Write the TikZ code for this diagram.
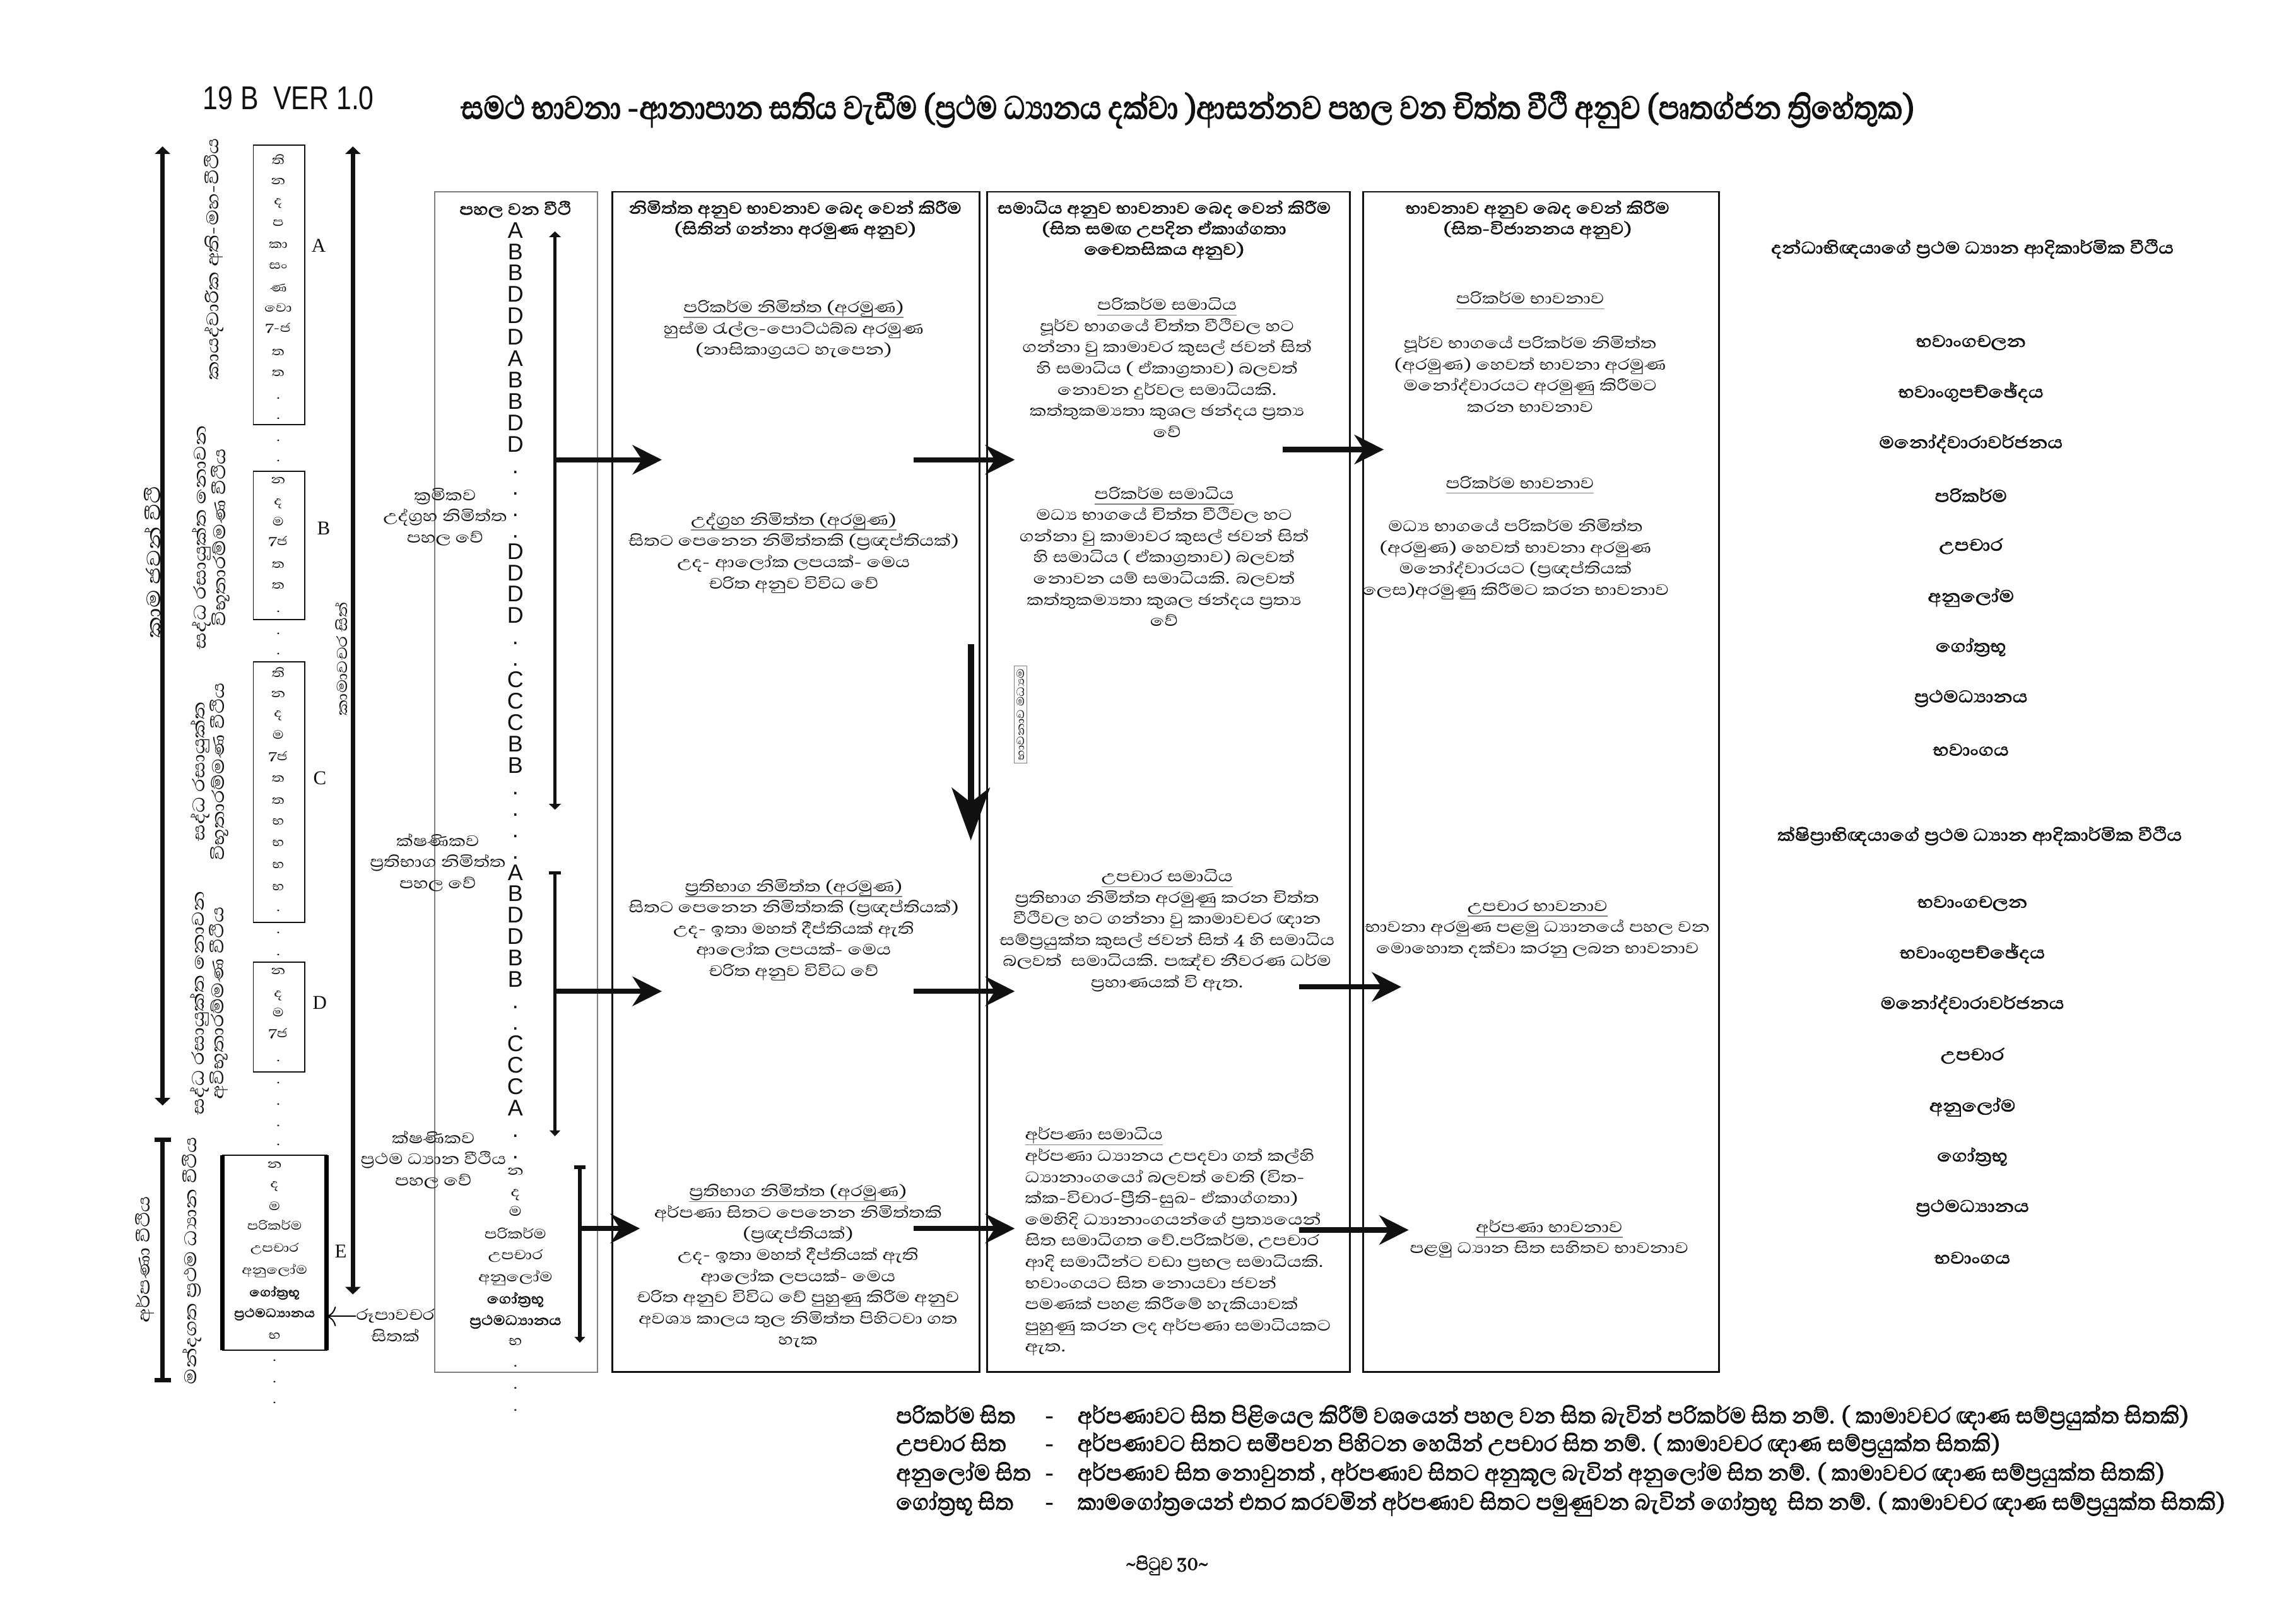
\documentclass[tikz,border=0pt]{standalone}
\usepackage{fontspec}
\setmainfont{Abhaya Libre}[Script=Sinhala]
\newfontfamily\sinw{Abhaya Libre}[Script=Sinhala,FakeStretch=1.22]
\newfontfamily\sinwb{Abhaya Libre}[Script=Sinhala,FakeStretch=1.15,FakeBold=2]
\newfontfamily\sincb{Abhaya Libre}[Script=Sinhala,FakeStretch=0.85,FakeBold=2.5]
\newfontfamily\sinnb{Abhaya Libre}[Script=Sinhala,FakeStretch=0.94,FakeBold=2]
\newfontfamily\latsans{Liberation Sans}
\newfontfamily\latnarrow{Liberation Sans}[FakeStretch=0.82]
\newfontfamily\latserif{Liberation Serif}
\usetikzlibrary{arrows.meta,positioning}
\definecolor{ink}{HTML}{111111}
\definecolor{frame}{HTML}{7F7F7F}
\newcommand{\undl}[1]{\setbox0\hbox{#1}\rlap{\color{frame}\rule[-2.6pt]{\wd0}{0.45pt}}\box0}

\begin{document}
\begin{tikzpicture}[x=0.25mm,y=-0.25mm,
  every node/.style={inner sep=0pt,outer sep=0pt,text=ink},
  colbox/.style={draw=ink,line width=0.9pt},
  slimbox/.style={draw=ink,line width=0.6pt},
  txt/.style={align=center,font=\sinw\fontsize{9.5}{10.3}\selectfont},
  hd/.style={align=center,font=\sinwb\fontsize{10}{10}\selectfont},
  vit/.style={font=\sinw\fontsize{7.5}{8}\selectfont},
  ltr/.style={font=\latsans\fontsize{11}{11}\selectfont},
  side/.style={rotate=90,align=center,font=\sinw\fontsize{10.5}{9.5}\selectfont},
  tagl/.style={font=\latserif\fontsize{9.5}{10}\selectfont},
  lst/.style={font=\sinwb\fontsize{10.5}{10}\selectfont},
  note/.style={anchor=west,font=\sinnb\fontsize{14}{14}\selectfont},
  arr/.style={-{Stealth[length=5mm,width=5mm,inset=1.6mm]},line width=2.5pt,draw=ink},
  bigarr/.style={-{Stealth[length=9mm,width=6.5mm,inset=2.5mm]},line width=3pt,draw=ink},
  twoway/.style={{Triangle[length=1.3mm,width=2.6mm]}-{Triangle[length=1.3mm,width=2.6mm]},line width=2pt,draw=ink},
  barway/.style={{Bar[width=2.8mm]}-{Bar[width=2.8mm]},line width=2pt,draw=ink},
  runway/.style={{Triangle[length=1mm,width=2mm]}-{Triangle[length=1mm,width=2mm]},line width=1.6pt,draw=ink},
  tick/.style={{Bar[width=2mm]}-{Triangle[length=1mm,width=1.8mm]},line width=1.6pt,draw=ink}
]
\fill[white] (0,0) rectangle (1568,1109);
\useasboundingbox (0,0) rectangle (1568,1109);

% title
\node[font=\latnarrow\fontsize{16}{16}\selectfont] (ver) at (197,67) {19 B\ \ VER 1.0};
\node[font=\sincb\fontsize{20}{20}\selectfont] (title) at (811,75) {සමථ භාවනා -ආනාපාන සතිය වැඩීම (ප්‍රථම ධ්‍යානය දක්වා )ආසන්නව පහල වන චිත්ත වීථි අනුව (පෘතග්ජන ත්‍රිහේතුක)};

% left: process boxes
\node[slimbox,minimum width=8.75mm,minimum height=47.75mm] (boxA) at (190.5,194.5) {};
\node[slimbox,minimum width=8.75mm,minimum height=25.25mm] (boxB) at (190.5,372.5) {};
\node[slimbox,minimum width=8.75mm,minimum height=44.5mm] (boxC) at (190.5,541) {};
\node[slimbox,minimum width=8.75mm,minimum height=18.75mm] (boxD) at (190.5,694.5) {};
\node[slimbox,minimum width=17.75mm,minimum height=33.25mm] (boxE) at (187.5,855.5) {};
\draw[line width=2pt] (boxE.north west) -- (boxE.south west);
\draw[line width=2pt] (boxE.north east) -- (boxE.south east);

\foreach \t/\y [count=\i] in {ති/109,න/124,ද/139,ප/152.5,කා/167.5,සං/181.5,ණ/196.5,වො/210,7-ජ/224,ත/240.5,ත/255,./272,./285.7,
  ./300.8,./314.6,
  න/328,ද/344,ම/356,7ජ/369.6,ත/386,ත/400,./417.7,
  ./432.7,./446.5,
  ති/459,න/474,ද/488.7,ම/502,7ජ/516.6,ත/532,ත/547,භ/561,භ/576,භ/591,භ/606,./622,
  ./637,./652,
  න/663.5,ද/680,ම/691.6,7ජ/706,./724.5,
  ./739.5,./754,./769,./782}
  \node[vit] (lv\i) at (190,\y) {\t};
\foreach \t/\y [count=\i] in {න/795.5,ද/810,ම/823.5,පරිකර්ම/836.6,උපචාර/853,අනුලෝම/868,{\sinwb ගෝත්‍රභූ}/883,{\sinwb ප්‍රථමධ්‍යානය}/897.6,භ/912.5,./929,./943.7,./958}
  \node[vit] (le\i) at (187.5,\y) {\t};

\node[tagl] (tagA) at (217.6,167.6) {A};
\node[tagl] (tagB) at (221,361) {B};
\node[tagl] (tagC) at (218.4,531.6) {C};
\node[tagl] (tagD) at (218.4,685) {D};
\node[tagl] (tagE) at (232.7,854.8) {E};

\node[side] (lblA) at (146,177) {කායද්වාරික අති-මහ-වීථිය};
\node[side] (lblB) at (144,367) {සද්ධ රසායුක්ත නොවන\\විභූතාරම්මණ වීථිය};
\node[side] (lblC) at (143,527) {සද්ධ රසායුක්ත\\විභූතාරම්මණ වීථිය};
\node[side] (lblD) at (143,685) {සද්ධ රසායුක්ත නොවන\\අවිභූතාරම්මණ වීථිය};
\node[side] (lblE) at (131,861) {මන්දගත ප්‍රථම ධ්‍යාන වීථිය};
\node[side] (apv) at (99,860) {අර්පණා වීථිය};
\node[side,font=\sinw\fontsize{12}{12}\selectfont] (kjv) at (104,384) {කාම ජවන් වීථි};
\node[side,font=\sinw\fontsize{9}{9}\selectfont] (ksit) at (233,450) {කාමාවචර සිත්};

\coordinate (kjt) at (111,100);
\coordinate (kjb) at (111,755);
\coordinate (apt) at (111,777);
\coordinate (apb) at (111,944);
\coordinate (kst) at (241,100);
\coordinate (ksb) at (241,884);
\draw[twoway] (kjt) -- (kjb);
\draw[barway] (apt) -- (apb);
\draw[twoway] (kst) -- (ksb);

% columns
\node[colbox,draw=frame,line width=0.6pt,minimum width=27.75mm,minimum height=201.5mm] (col1) at (352.5,534) {};
\node[colbox,minimum width=62.75mm,minimum height=201.5mm] (col2) at (543.5,534) {};
\node[colbox,minimum width=62mm,minimum height=201.5mm] (col3) at (798,534) {};
\node[colbox,minimum width=60.75mm,minimum height=201.5mm] (col4) at (1052.5,534) {};

\node[hd] (c1hd) at (352,143) {පහල වන වීථි};
\foreach \c [count=\i from 0] in {A,B,B,D,D,D,A,B,B,D,D,.,.,.,.,D,D,D,D,.,.,C,C,C,B,B,.,.,.,.,A,B,D,D,B,B,.,.,C,C,C,A,.,.}
  \node[ltr,anchor=base] (pv\i) at (352,162.5+14.62*\i) {\c};
\foreach \t/\y [count=\i] in {න/800,ද/816,ම/827,පරිකර්ම/842,උපචාර/857.5,අනුලෝම/872.6,{\sinwb ගෝත්‍රභූ}/887.6,{\sinwb ප්‍රථමධ්‍යානය}/902.7,භ/916.5,./933,./948,./963}
  \node[vit,font=\sinw\fontsize{8.5}{9}\selectfont] (pe\i) at (352,\y) {\t};

\node[txt] (krm) at (304,353) {ක්‍රමිකව\\උද්ග්‍රහ නිමිත්ත\\පහල වේ};
\node[txt] (ksn1) at (299,589) {ක්ෂණිකව\\ප්‍රතිභාග නිමිත්ත\\පහල වේ};
\node[txt] (ksn2) at (296,792) {ක්ෂණිකව\\ප්‍රථම ධ්‍යාන වීථිය\\පහල වේ};
\node[txt] (rupa) at (270,905) {රූපාවචර\\සිතක්};
\coordinate (rupaend) at (223,899);
\draw[-{To[length=1.6mm]},line width=0.6pt] (rupa.west |- rupaend) -- (rupaend);

\coordinate (v1t) at (379,158);
\coordinate (v1b) at (379,553);
\coordinate (v2t) at (379,595);
\coordinate (v2b) at (379,776);
\coordinate (v3t) at (396,796);
\coordinate (v3b) at (396,917);
\draw[runway] (v1t) -- (v1b);
\draw[tick] (v2t) -- (v2b);
\draw[tick] (v3t) -- (v3b);

% column 2
\node[hd] (c2hd) at (543,150) {නිමිත්ත අනුව භාවනාව බෙද වෙන් කිරීම\\(සිතින් ගන්නා අරමුණ අනුව)};
\node[txt] (nim1) at (542,225) {\undl{පරිකර්ම නිමිත්ත (අරමුණ)}\\හුස්ම රැල්ල-පොට්ඨබ්බ අරමුණ\\(නාසිකාග්‍රයට හැපෙන)};
\node[txt] (nim2) at (542,377.5) {\undl{උද්ග්‍රහ නිමිත්ත (අරමුණ)}\\සිතට පෙනෙන නිමිත්තකි (ප්‍රඥප්තියක්)\\උද- ආලෝක ලපයක්- මෙය\\චරිත අනුව විවිධ වේ};
\node[txt] (nim3) at (542,635) {\undl{ප්‍රතිභාග නිමිත්ත (අරමුණ)}\\සිතට පෙනෙන නිමිත්තකි (ප්‍රඥප්තියක්)\\උද- ඉතා මහත් දීප්තියක් ඇති\\ආලෝක ලපයක්- මෙය\\චරිත අනුව විවිධ වේ};
\node[txt] (nim4) at (545,864.5) {\undl{ප්‍රතිභාග නිමිත්ත (අරමුණ)}\\අර්පණා සිතට පෙනෙන නිමිත්තකි\\(ප්‍රඥප්තියක්)\\උද- ඉතා මහත් දීප්තියක් ඇති\\ආලෝක ලපයක්- මෙය\\චරිත අනුව විවිධ වේ පුහුණු කිරීම අනුව\\අවශ්‍ය කාලය තුල නිමිත්ත පිහිටවා ගත\\හැක};

% column 3
\node[hd] (c3hd) at (795,157) {සමාධිය අනුව භාවනාව බෙද වෙන් කිරීම\\(සිත සමඟ උපදින ඒකාග්ගතා\\චෛතසිකය අනුව)};
\node[txt] (sam1) at (797,251) {\undl{පරිකර්ම සමාධිය}\\පූර්ව භාගයේ චිත්ත වීථිවල හට\\ගන්නා වු කාමාවර කුසල් ජවන් සිත්\\හි සමාධිය ( ඒකාග්‍රතාව) බලවත්\\නොවන දුර්වල සමාධියකි.\\කත්තුකම්‍යතා කුශල ඡන්දය ප්‍රත්‍ය\\වේ};
\node[txt] (sam2) at (795,380) {\undl{පරිකර්ම සමාධිය}\\මධ්‍ය භාගයේ චිත්ත වීථිවල හට\\ගන්නා වු කාමාවර කුසල් ජවන් සිත්\\හි සමාධිය ( ඒකාග්‍රතාව) බලවත්\\නොවන යම් සමාධියකි. බලවත්\\කත්තුකම්‍යතා කුශල ඡන්දය ප්‍රත්‍ය\\වේ};
\node[txt] (sam3) at (797,635.5) {\undl{උපචාර සමාධිය}\\ප්‍රතිභාග නිමිත්ත අරමුණු කරන චිත්ත\\වීථිවල හට ගන්නා වු කාමාවචර ඥාන\\සම්ප්‍රයුක්ත කුසල් ජවන් සිත් 4 හි සමාධිය\\බලවත්\ \ සමාධියකි. පඤ්ච නීවරණ ධර්ම\\ප්‍රහාණයක් වි ඇත.};
\node[txt,align=left,anchor=west] (sam4) at (700,848) {\undl{අර්පණා සමාධිය}\\අර්පණා ධ්‍යානය උපදවා ගත් කල්හි\\ධ්‍යානාංගයෝ බලවත් වෙති (විත-\\ක්ක-විචාර-ප්‍රීති-සුඛ- ඒකාග්ගතා)\\මෙහිදි ධ්‍යානාංගයන්ගේ ප්‍රත්‍යයෙන්\\සිත සමාධිගත වේ.පරිකර්ම, උපචාර\\ආදි සමාධීන්ට වඩා ප්‍රභල සමාධියකි.\\භවාංගයට සිත නොයවා ජවන්\\පමණක් පහළ කිරීමේ හැකියාවක්\\පුහුණු කරන ලද අර්පණා සමාධියකට\\ඇත.};
\node[side,draw=frame,line width=0.4pt,inner sep=1.2pt,font=\sinw\fontsize{6.5}{6.5}\selectfont] (c3side) at (697,488) {භාවනාව මධ්‍යම};
\coordinate (c3t) at (663,440);
\coordinate (c3b) at (663,574);
\draw[bigarr] (c3t) -- (c3b);

% column 4
\node[hd] (c4hd) at (1050,150) {භාවනාව අනුව බෙද වෙන් කිරීම\\(සිත-විජානනය අනුව)};
\node[txt] (bh1t) at (1045,205) {\undl{පරිකර්ම භාවනාව}};
\node[txt] (bh1) at (1045,255.5) {පූර්ව භාගයේ පරිකර්ම නිමිත්ත\\(අරමුණ) හෙවත් භාවනා අරමුණ\\මනෝද්වාරයට අරමුණු කිරීමට\\කරන භාවනාව};
\node[txt] (bh2t) at (1038,331) {\undl{පරිකර්ම භාවනාව}};
\node[txt] (bh2) at (1035,382) {මධ්‍ය භාගයේ පරිකර්ම නිමිත්ත\\(අරමුණ) හෙවත් භාවනා අරමුණ\\මනෝද්වාරයට (ප්‍රඥප්තියක්\\ලෙස)අරමුණු කිරීමට කරන භාවනාව};
\node[txt] (bh3) at (1050,634.5) {\undl{උපචාර භාවනාව}\\භාවනා අරමුණ පළමු ධ්‍යානයේ පහල වන\\මොහොත දක්වා කරනු ලබන භාවනාව};
\node[txt] (bh4) at (1058,846) {\undl{අර්පණා භාවනාව}\\පළමු ධ්‍යාන සිත සහිතව භාවනාව};

% arrows between the columns
\coordinate (h1s) at (379,314);  \coordinate (h1e) at (452,314);
\coordinate (h2s) at (624,314);  \coordinate (h2e) at (693,314);
\coordinate (h3s) at (876,307);  \coordinate (h3e) at (945,307);
\coordinate (h4s) at (379,677);  \coordinate (h4e) at (452,677);
\coordinate (h5s) at (624,677);  \coordinate (h5e) at (693,677);
\coordinate (h6s) at (887,674);  \coordinate (h6e) at (957,674);
\coordinate (h7s) at (396,839);  \coordinate (h7e) at (437,839);
\coordinate (h8s) at (624,839);  \coordinate (h8e) at (693,839);
\coordinate (h9s) at (887,840);  \coordinate (h9e) at (962,840);
\foreach \k in {1,...,9}
  \draw[arr] (h\k s) -- (h\k e);

% right: the two processes
\node[lst] (slowhd) at (1347,170) {දන්ධාභිඥයාගේ ප්‍රථම ධ්‍යාන ආදිකාර්මික වීථිය};
\foreach \t/\y [count=\i] in {භවාංගචලන/234,භවාංගුපච්ඡේදය/268,මනෝද්වාරාවර්ජනය/303,පරිකර්ම/338,උපචාර/373,අනුලෝම/408,ගෝත්‍රභූ/442,ප්‍රථමධ්‍යානය/477,භවාංගය/512}
  \node[lst] (slow\i) at (1346,\y) {\t};
\node[lst] (fasthd) at (1352,571) {ක්ෂිප්‍රාභිඥයාගේ ප්‍රථම ධ්‍යාන ආදිකාර්මික වීථිය};
\foreach \t/\y [count=\i] in {භවාංගචලන/617,භවාංගුපච්ඡේදය/651,මනෝද්වාරාවර්ජනය/686,උපචාර/721,අනුලෝම/756,ගෝත්‍රභූ/790,ප්‍රථමධ්‍යානය/825,භවාංගය/859}
  \node[lst] (fast\i) at (1347,\y) {\t};

% notes
\node[note] (n1) at (612,968) {\makebox[69.6pt][l]{පරිකර්ම සිත}\makebox[10pt]{-}\hspace{8.5pt}අර්පණාවට සිත පිළියෙල කිරීම් වශයෙන් පහල වන සිත බැවින් පරිකර්ම සිත නම්. ( කාමාවචර ඥාණ සම්ප්‍රයුක්ත සිතකි)};
\node[note] (n2) at (612,987) {\makebox[69.6pt][l]{උපචාර සිත}\makebox[10pt]{-}\hspace{8.5pt}අර්පණාවට සිතට සමීපවන පිහිටන හෙයින් උපචාර සිත නම්. ( කාමාවචර ඥාණ සම්ප්‍රයුක්ත සිතකි)};
\node[note] (n3) at (612,1007) {\makebox[69.6pt][l]{අනුලෝම සිත}\makebox[10pt]{-}\hspace{8.5pt}අර්පණාව සිත නොවුනත් , අර්පණාව සිතට අනුකූල බැවින් අනුලෝම සිත නම්. ( කාමාවචර ඥාණ සම්ප්‍රයුක්ත සිතකි)};
\node[note] (n4) at (612,1027) {\makebox[69.6pt][l]{ගෝත්‍රභූ සිත}\makebox[10pt]{-}\hspace{8.5pt}කාමගෝත්‍රයෙන් එතර කරවමින් අර්පණාව සිතට පමුණුවන බැවින් ගෝත්‍රභූ\ \ සිත නම්. ( කාමාවචර ඥාණ සම්ප්‍රයුක්ත සිතකි)};

\node[font=\sinnb\fontsize{11}{11}\selectfont] (page) at (797,1069) {\textasciitilde පිටුව 30\textasciitilde};
\end{tikzpicture}
\end{document}
